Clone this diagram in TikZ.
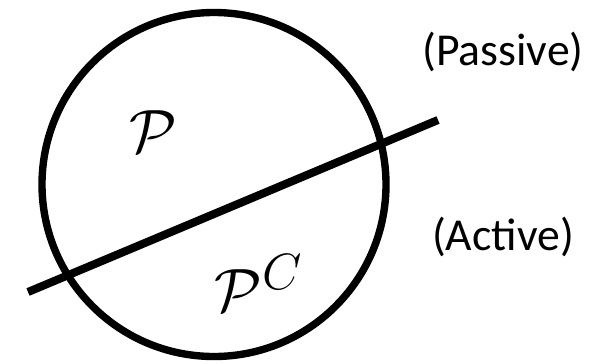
\documentclass[tikz,border=0pt]{standalone}
\usepackage{fontspec}
\setmainfont{Carlito}
\begin{document}
\begin{tikzpicture}
 \useasboundingbox (0,0) rectangle (12.22,7.26);
 \tikzset{part/.style={font=\fontsize{24.88}{28}\selectfont,scale=1.4},side/.style={font=\fontsize{26}{30}\selectfont}}
 \draw[line width=4.2pt] (4.28,3.57) circle (3.44);
 \coordinate (cutA) at (0.56,1.42); \coordinate (cutB) at (8.76,4.86);
 \draw[line width=4.6pt] (cutA) -- (cutB);
 \node[part] (pin) at (3.06,4.62) {$\mathcal{P}$}; \node[part] (pout) at (5.18,1.6) {$\mathcal{P}^{C}$};
 \node[side] (passive) at (10.06,6.22) {(Passive)}; \node[side] (active) at (10.06,2.52) {(Active)};
\end{tikzpicture}
\end{document}
